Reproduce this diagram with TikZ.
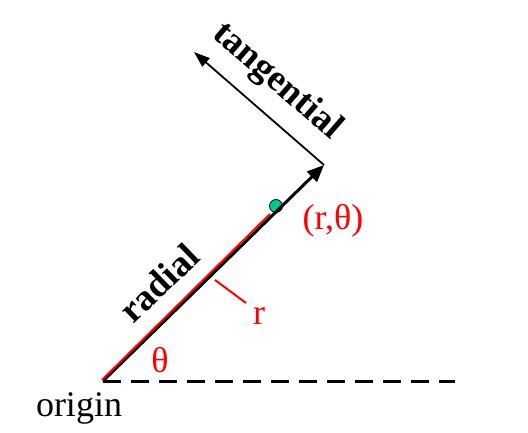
\documentclass[tikz,border=0pt]{standalone}
\usepackage{fontspec}
\setmainfont{Liberation Serif}
\usetikzlibrary{arrows.meta}
\definecolor{dotgreen}{RGB}{0,200,150}
\tikzset{
  lbl/.style={font=\fontsize{36}{40}\selectfont, inner sep=0pt},
  blbl/.style={font=\fontsize{37}{40}\selectfont\bfseries, inner sep=0pt},
  rlbl/.style={lbl, text=red},
  vec/.style={line width=3pt, -{Triangle[length=17pt,width=14pt]}},
  tvec/.style={line width=1.8pt, -{Triangle[length=16pt,width=11pt]}},
}
\begin{document}
\begin{tikzpicture}[x=1pt,y=-1pt]
\useasboundingbox (0,0) rectangle (528,433);
\coordinate (O) at (103,381);
\coordinate (P) at (324,165);
\coordinate (T) at (194,52);
\coordinate (D) at (455,381);
\coordinate (Rend) at (270,214);
\coordinate (tick1) at (215,280);
\coordinate (tick2) at (246,303);
% dashed axis
\draw[line width=3pt, dash pattern=on 18pt off 10pt] (O) -- (D);
% green point
\node (pt) [circle, draw=black, fill=dotgreen, line width=0.8pt, minimum size=13pt, inner sep=0pt] at (276,206) {};
% radial vector
\draw[vec] (O) -- (P);
% tangential vector
\draw[tvec] (P) -- (T);
% red r line
\draw[red, line width=2pt] ([shift={(-1,-1)}]O) -- (Rend);
\draw[red, line width=2pt] (tick1) -- (tick2);
% labels
\node[rlbl] (r) at (259,316) {r};
\node[rlbl] (th) at (160,360) {θ};
\node[rlbl] (rth) at (333,221) {(r,θ)};
\node[lbl] (orig) at (79,408) {origin};
\node[blbl, rotate=44] (rad) at (159,283) {radial};
\node[blbl, rotate=-41] (tan) at (277,82) {tangential};
\end{tikzpicture}
\end{document}
